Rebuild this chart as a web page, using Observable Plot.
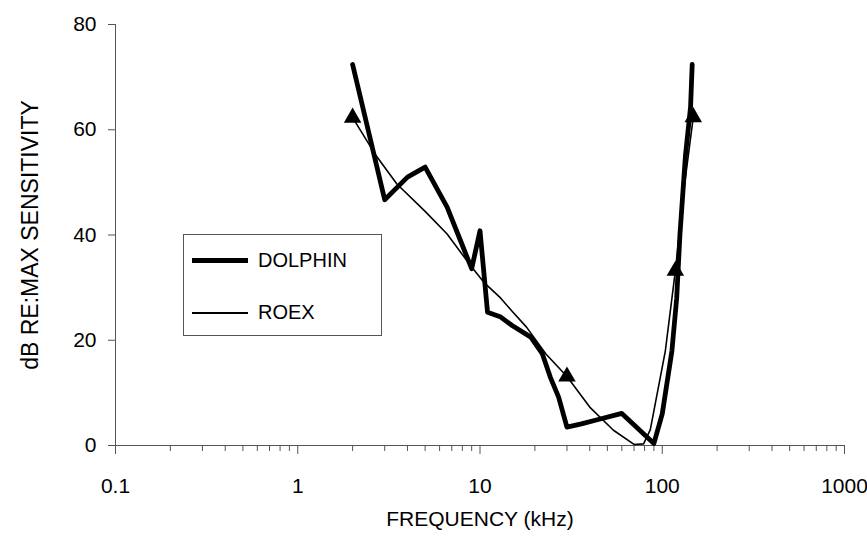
<!DOCTYPE html>
<html>
<head>
<meta charset="utf-8">
<script src="https://cdn.jsdelivr.net/npm/d3@7"></script>
<script src="https://cdn.jsdelivr.net/npm/@observablehq/plot@0.6"></script>
<style>
  html, body { margin: 0; padding: 0; background: white; }
  #wrap { position: relative; width: 867px; height: 554px; font-family: "Liberation Sans", Arial, sans-serif; }
  #legend { position: absolute; left: 183px; top: 234px; width: 199px; height: 102px; border: 1px solid #555; background: white; box-sizing: border-box; }
  .row { position: absolute; left: 8px; display: flex; align-items: center; font-size: 20px; color: black; }
  .sw { width: 56px; margin-right: 10px; background: black; }
</style>
</head>
<body>
<div id="wrap">
  <div id="chart"></div>
  <div id="legend">
    <div class="row" style="top:14px"><div class="sw" style="height:5px"></div>DOLPHIN</div>
    <div class="row" style="top:66px"><div class="sw" style="height:2px"></div>ROEX</div>
  </div>
</div>
<script>
// Data
const dolphinFreq = [2, 3, 4, 5, 6.6, 7.8, 9, 10, 11, 13, 15, 19, 22, 24.3, 27, 30, 36, 44, 60, 90, 100, 113, 120, 125, 134, 143, 146];
const dolphinDb   = [72.4, 46.7, 51, 52.9, 45.3, 39, 33.6, 40.8, 25.3, 24.4, 22.8, 20.6, 17.4, 13, 9.2, 3.5, 4.1, 4.9, 6.1, 0.4, 6, 18, 28, 40, 55, 64.3, 72.4];

const roexFreq = [2, 2.7, 3.5, 5, 6.6, 9, 10.5, 13, 15, 18, 23, 30, 40, 54, 70, 79, 86, 104, 118, 133, 148];
const roexDb   = [62.3, 55, 49.7, 44.5, 40.2, 33.9, 31, 28, 25.5, 22.5, 17.4, 13.1, 7.3, 2.9, 0.2, 0.3, 3, 18, 33.2, 50, 62.4];

const triFreq = [2, 30, 118, 148];
const triDb   = [62.3, 13.1, 33.2, 62.4];

const xTicks = [0.1, 1, 10, 100, 1000];
const yTicks = [0, 20, 40, 60, 80];

const dolphin = dolphinFreq.map((f, i) => ({f, db: dolphinDb[i]}));
const roex = roexFreq.map((f, i) => ({f, db: roexDb[i]}));
const tri = triFreq.map((f, i) => ({f, db: triDb[i]}));
const minorTicks = d3.scaleLog().domain([0.1, 1000]).ticks().filter(t => !xTicks.some(m => Math.abs(m - t) < 1e-9));

const axisColor = "#555";

const chart = Plot.plot({
  width: 867,
  height: 554,
  marginLeft: 115,
  marginRight: 23,
  marginTop: 24,
  marginBottom: 109,
  style: {fontSize: "21px", fontFamily: "'Liberation Sans', Arial, sans-serif", background: "white", color: "black"},
  x: {type: "log", domain: [0.1, 1000]},
  y: {domain: [0, 80]},
  marks: [
    Plot.ruleY([0], {stroke: axisColor, strokeWidth: 1}),
    Plot.ruleX([0.1], {stroke: axisColor, strokeWidth: 1}),
    Plot.axisX({ticks: minorTicks, tickSize: 6, text: null, stroke: axisColor, label: null}),
    Plot.axisX({ticks: xTicks, tickSize: 9, tickPadding: 24, tickFormat: d => String(d), stroke: axisColor, fill: "black", label: null}),
    Plot.axisY({ticks: yTicks, tickSize: 7, tickPadding: 12, stroke: axisColor, fill: "black", label: null}),
    Plot.text(["FREQUENCY (kHz)"], {frameAnchor: "bottom", dy: 80, fill: "black"}),
    Plot.text(["dB RE:MAX SENSITIVITY"], {frameAnchor: "left", dx: -85, rotate: -90, textAnchor: "middle", fontSize: 23, fill: "black"}),
    Plot.line(roex, {x: "f", y: "db", stroke: "black", strokeWidth: 1.6}),
    Plot.line(dolphin, {x: "f", y: "db", stroke: "black", strokeWidth: 4.8}),
    Plot.dot(tri, {x: "f", y: "db", symbol: "triangle", r: 6.5, fill: "black", stroke: "none"})
  ]
});
document.getElementById("chart").appendChild(chart);
</script>
</body>
</html>
